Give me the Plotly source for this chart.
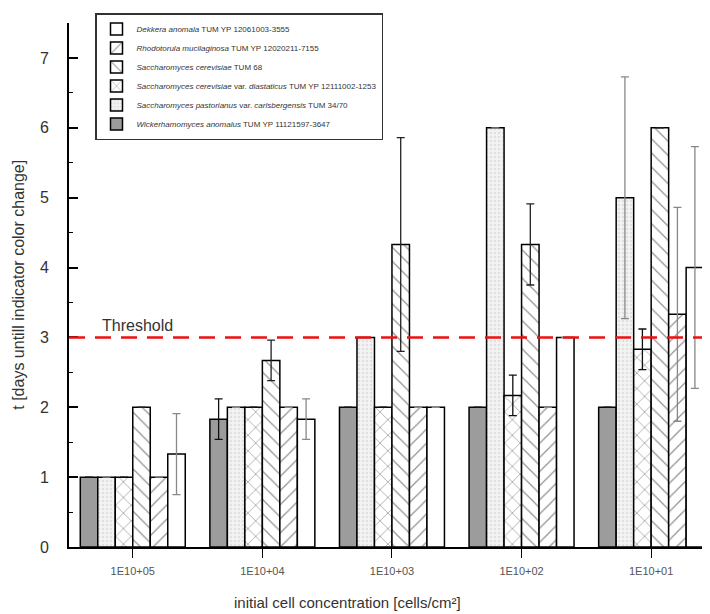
import plotly.graph_objects as go

categories = ["1E10+05", "1E10+04", "1E10+03", "1E10+02", "1E10+01"]

# series in bar order (left to right inside each group)
names = [
    "<i>Wickerhamomyces anomalus</i> TUM YP 11121597-3647",
    "<i>Saccharomyces pastorianus</i> var. <i>carlsbergensis</i> TUM 34/70",
    "<i>Saccharomyces cerevisiae</i> var. <i>diastaticus</i> TUM YP 12111002-1253",
    "<i>Saccharomyces cerevisiae</i> TUM 68",
    "<i>Rhodotorula mucilaginosa</i> TUM YP 12020211-7155",
    "<i>Dekkera anomala</i> TUM YP 12061003-3555",
]

wickerhamomyces = [1, 1.83, 2, 2, 2]
wickerhamomyces_err = [None, 0.29, None, None, None]
pastorianus = [1, 2, 3, 6, 5]
pastorianus_err = [None, None, None, None, 1.73]
diastaticus = [1, 2, 2, 2.17, 2.83]
diastaticus_err = [None, None, None, 0.29, 0.29]
cerevisiae = [2, 2.67, 4.33, 4.33, 6]
cerevisiae_err = [None, 0.29, 1.53, 0.58, None]
rhodotorula = [1, 2, 2, 2, 3.33]
rhodotorula_err = [None, None, None, None, 1.53]
dekkera = [1.33, 1.83, 2, 3, 4]
dekkera_err = [0.58, 0.29, None, None, 1.73]

threshold = 3

values = [wickerhamomyces, pastorianus, diastaticus, cerevisiae, rhodotorula, dekkera]
errors = [wickerhamomyces_err, pastorianus_err, diastaticus_err, cerevisiae_err, rhodotorula_err, dekkera_err]

styles = [
    dict(color="#9c9c9c", pattern=dict(shape="")),
    dict(color="#ececec", pattern=dict(shape=".", fgcolor="#cccccc", bgcolor="#f3f3f3", size=4, solidity=0.3)),
    dict(color="white", pattern=dict(shape="x", fgcolor="#222222", bgcolor="white", size=11, solidity=0.12)),
    dict(color="white", pattern=dict(shape="\\", fgcolor="#222222", bgcolor="white", size=10, solidity=0.12)),
    dict(color="white", pattern=dict(shape="/", fgcolor="#222222", bgcolor="white", size=10, solidity=0.12)),
    dict(color="white", pattern=dict(shape="")),
]
err_colors = ["#111111", "#888888", "#111111", "#222222", "#888888", "#888888"]

font_family = "Arial, Liberation Sans, sans-serif"

# page body has an 8px margin: the figure is drawn at (8, 8) in the window
W, H = 702, 606

fig = go.Figure()
for name, vals, errs, st, ec in zip(names, values, errors, styles, err_colors):
    fig.add_trace(go.Bar(
        x=categories, y=vals, name=name,
        marker=dict(color=st["color"], pattern=st["pattern"],
                    line=dict(color="black", width=1.5)),
        error_y=dict(type="data", array=errs, visible=True,
                     color=ec, thickness=1.3, width=4),
    ))

fig.add_shape(type="line", xref="paper", yref="y", x0=0, x1=1,
              y0=threshold, y1=threshold,
              line=dict(color="#ee1111", width=2.5, dash="16px,10px"))
fig.add_annotation(text="Threshold", xref="paper", yref="y",
                   x=0.048, y=threshold, xanchor="left", yanchor="bottom",
                   showarrow=False, yshift=1,
                   font=dict(size=16, color="#333333", family=font_family))
fig.add_annotation(text="initial cell concentration [cells/cm²]",
                   xref="paper", yref="paper", x=0.435, y=-0.105,
                   xanchor="center", yanchor="middle", showarrow=False,
                   font=dict(size=15, color="#333333", family=font_family))
fig.add_annotation(text="t [days untill indicator color change]",
                   xref="paper", yref="paper", x=-0.08, y=0.5,
                   xanchor="center", yanchor="middle", textangle=-90,
                   showarrow=False,
                   font=dict(size=16, color="#333333", family=font_family))

fig.update_layout(
    width=W, height=H,
    margin=dict(l=61, r=0, t=15, b=67, autoexpand=False),
    paper_bgcolor="white", plot_bgcolor="white",
    barmode="group", bargap=0.19, bargroupgap=0,
    font=dict(family=font_family, color="#333333"),
    showlegend=True,
    legend=dict(
        xref="container", yref="container",
        x=87 / W, y=1 - 5 / H, xanchor="left", yanchor="top",
        traceorder="reversed",
        bgcolor="white", bordercolor="#333333", borderwidth=1.5,
        font=dict(size=8, color="#333333", family=font_family),
        itemwidth=30, tracegroupgap=0,
    ),
    xaxis=dict(
        range=[-0.492, 4.454], automargin=False,
        showline=True, linecolor="black", linewidth=2,
        ticks="outside", ticklen=9, tickwidth=1.2, tickcolor="black",
        tickfont=dict(size=11, color="#555555"),
        ticklabelstandoff=4,
        showgrid=False, zeroline=False,
    ),
    yaxis=dict(
        range=[0, 7.5], automargin=False,
        showline=True, linecolor="black", linewidth=2,
        ticks="inside", ticklen=9, tickwidth=1.5, tickcolor="black",
        dtick=1, tick0=0,
        minor=dict(ticks="inside", ticklen=4, dtick=0.5, tickcolor="black", tickwidth=1),
        tickfont=dict(size=16, color="#333333"),
        ticklabelstandoff=15,
        showgrid=False, zeroline=False,
    ),
)

fig.write_html("out.html")
